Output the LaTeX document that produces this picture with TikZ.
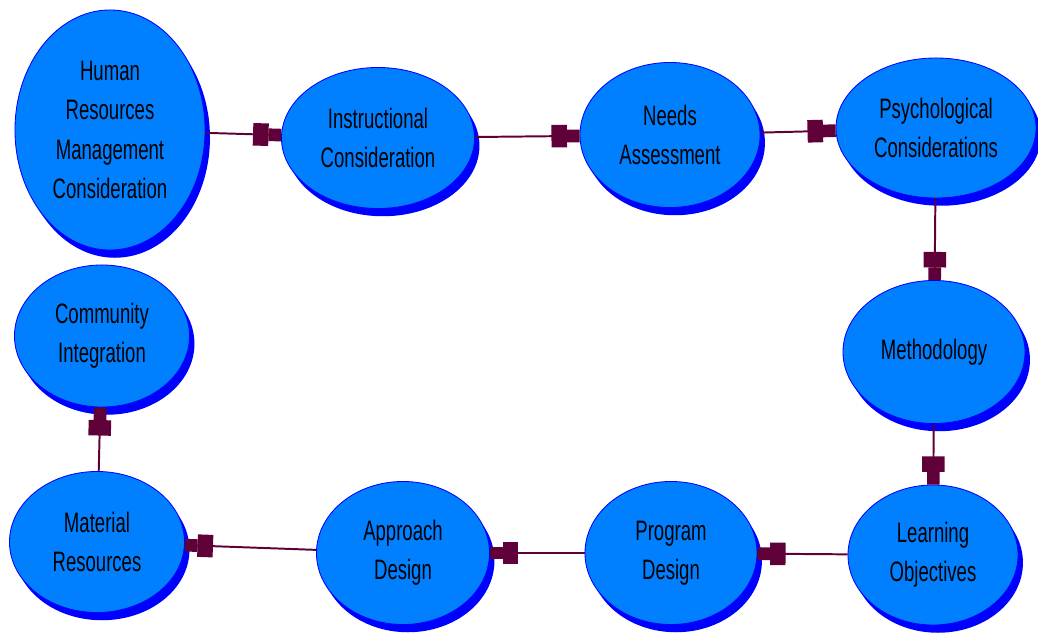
\documentclass[tikz,border=0pt]{standalone}
\usepackage{fontspec}
\setmainfont{Liberation Sans}[FakeStretch=0.66]
\usepackage{tikz}
\usetikzlibrary{arrows.meta,shapes.geometric,shadows}
\definecolor{bubblefill}{RGB}{0,128,255}
\definecolor{bubbleedge}{RGB}{0,0,255}
\definecolor{linkcol}{RGB}{96,0,56}

\tikzset{
  bubble/.style={ellipse, draw=bubbleedge, line width=0.6pt, fill=bubblefill,
    inner sep=0pt, align=center, font=\fontsize{20pt}{28pt}\selectfont,
    drop shadow={shadow xshift=3.5pt, shadow yshift=-5.5pt, fill=bubbleedge, opacity=1}},
  link/.style={line width=1.4pt, draw=linkcol,
    -{Rectangle[length=11pt,width=16pt,sep=0pt]Rectangle[length=9pt,width=9pt,sep=0pt]}}
}

\begin{document}
\begin{tikzpicture}[x=0.025cm,y=-0.025cm]
  \useasboundingbox (0,0) rectangle (1038,635);
  % Rangee du haut
  \node[bubble, minimum width=4.75cm, minimum height=6cm] (hrm) at (110,130)
     {Human\\Resources\\Management\\Consideration};
  \node[bubble, minimum width=4.825cm, minimum height=3.525cm] (instr) at (378,138)
     {Instructional\\Consideration};
  \node[bubble, minimum width=4.5cm, minimum height=3.625cm] (needs) at (670,135)
     {Needs\\Assessment};
  \node[bubble, minimum width=5cm, minimum height=3.5cm] (psych) at (936,128)
     {Psychological\\Considerations};
  % Colonne de droite
  \node[bubble, minimum width=4.55cm, minimum height=3.575cm] (method) at (934,352)
     {Methodology};
  \node[bubble, minimum width=4.25cm, minimum height=3.5cm] (learn) at (933,555)
     {Learning\\Objectives};
  % Rangee du bas
  \node[bubble, minimum width=4.3cm, minimum height=3.575cm] (prog) at (671,553)
     {Program\\Design};
  \node[bubble, minimum width=4.325cm, minimum height=3.575cm] (appr) at (403,553)
     {Approach\\Design};
  \node[bubble, minimum width=4.375cm, minimum height=3.525cm] (matl) at (97,542)
     {Material\\Resources};
  \node[bubble, minimum width=4.375cm, minimum height=3.55cm] (comm) at (102,336)
     {Community\\Integration};
  % Liens
  \draw[link] (hrm) -- (instr);
  \draw[link] (instr) -- (needs);
  \draw[link] (needs) -- (psych);
  \draw[link] (psych) -- (method);
  \draw[link] (method) -- (learn);
  \draw[link] (learn) -- (prog);
  \draw[link] (prog) -- (appr);
  \draw[link] (appr) -- (matl);
  \draw[link] (matl) -- (comm);
\end{tikzpicture}
\end{document}
